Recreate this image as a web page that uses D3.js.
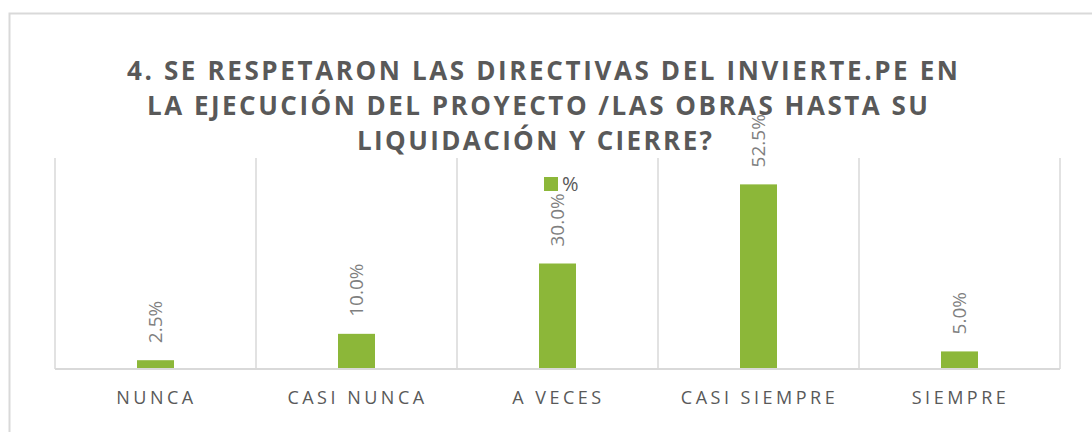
<html>
<head>
	<meta charset="utf-8">
	<title></title>
	<style>
		body { margin: 0; background: #fff; }
		text { font-family: "Open Sans", "Noto Sans", sans-serif; }
	</style>
</head>
<body>
	<div class="chart"></div>
	<script src="https://cdn.jsdelivr.net/npm/d3@7/dist/d3.min.js" charset="utf-8"></script>

	<script type="text/javascript">
		var categories = ["NUNCA", "CASI NUNCA", "A VECES", "CASI SIEMPRE", "SIEMPRE"];
		var values     = [2.5, 10.0, 30.0, 52.5, 5.0];
		var seriesName = "%";
		var titleLines = [
			"4. SE RESPETARON LAS DIRECTIVAS DEL INVIERTE.PE EN",
			"LA EJECUCIÓN DEL PROYECTO /LAS OBRAS HASTA SU",
			"LIQUIDACIÓN Y CIERRE?"
		];

		var width  = 1092;
		var height = 432;

		// plot area (window.top is taken, so these get longer names)
		var plotLeft   = 55;
		var plotRight  = 1060;
		var plotTop    = 158;
		var plotBottom = 369;

		var svg = d3.select('.chart').append("svg").attr("width", width).attr("height", height);

		// outer chart frame (runs off the right and bottom edges)
		svg.append('rect')
			.attr("x", 9.5)
			.attr("y", 13.5)
			.attr("width", 1200)
			.attr("height", 600)
			.attr("fill", "#fff")
			.attr("stroke", "#d9d9d9")
			.attr("stroke-width", 2);

		var x = d3.scaleBand().domain(categories).range([plotLeft, plotRight]).padding(0);
		var y = d3.scaleLinear().domain([0, 60]).range([plotBottom, plotTop]);

		// vertical grid lines between categories
		var bounds = categories.map(function(c){ return x(c); }).concat([plotRight]);
		svg.selectAll('.grid').data(bounds).enter().append('line')
			.attr("class", "grid")
			.attr("x1", function(d){ return d; })
			.attr("x2", function(d){ return d; })
			.attr("y1", plotTop)
			.attr("y2", plotBottom)
			.attr("stroke", "#d9d9d9")
			.attr("stroke-width", 1.5);

		var barW = 37;
		svg.selectAll('.bar').data(values).enter().append('rect')
			.attr("class", "bar")
			.attr("x", function(d, i){ return x(categories[i]) + x.bandwidth()/2 - barW/2; })
			.attr("y", function(d){ return y(d); })
			.attr("width", barW)
			.attr("height", function(d){ return y(0) - y(d); })
			.attr("fill", "#8cb739");

		// baseline
		svg.append('line')
			.attr("x1", plotLeft)
			.attr("x2", plotRight)
			.attr("y1", plotBottom)
			.attr("y2", plotBottom)
			.attr("stroke", "#d9d9d9")
			.attr("stroke-width", 2);

		// rotated data labels
		svg.selectAll('.lbl').data(values).enter().append('text')
			.attr("class", "lbl")
			.attr("transform", function(d, i){
				var cx = x(categories[i]) + x.bandwidth()/2;
				return "translate(" + cx + "," + (y(d) - 17) + ") rotate(-90)";
			})
			.attr("dy", "0.35em")
			.attr("fill", "#7f7f7f")
			.attr("font-size", 19)
			.text(function(d){ return d.toFixed(1) + "%"; });

		// category labels
		svg.selectAll('.cat').data(categories).enter().append('text')
			.attr("class", "cat")
			.attr("x", function(d){ return x(d) + x.bandwidth()/2 + 1; })
			.attr("y", 404)
			.attr("text-anchor", "middle")
			.attr("fill", "#595959")
			.attr("font-size", 18)
			.attr("letter-spacing", 3.5)
			.text(function(d){ return d; });

		// legend
		svg.append('rect')
			.attr("x", 544)
			.attr("y", 177)
			.attr("width", 14)
			.attr("height", 14)
			.attr("fill", "#8cb739");
		svg.append('text')
			.attr("x", 562)
			.attr("y", 191)
			.attr("fill", "#595959")
			.attr("font-size", 20)
			.text(seriesName);

		// title, each line stretched to the span seen in the picture
		var titleX0 = [127, 147, 357];
		var titleX1 = [958, 928, 712];
		var titleY  = [80, 115, 150];
		titleLines.forEach(function(t, i){
			var tw = titleX1[i] - titleX0[i];
			var el = svg.append('text')
				.attr("x", titleX0[i])
				.attr("y", titleY[i])
				.attr("fill", "#595959")
				.attr("font-size", 26)
				.attr("font-weight", "bold")
				.text(t);
			var w = el.node().getComputedTextLength();
			el.attr("textLength", tw)
				.attr("lengthAdjust", w > tw ? "spacingAndGlyphs" : "spacing");
		});
	</script>

</body>
</html>
